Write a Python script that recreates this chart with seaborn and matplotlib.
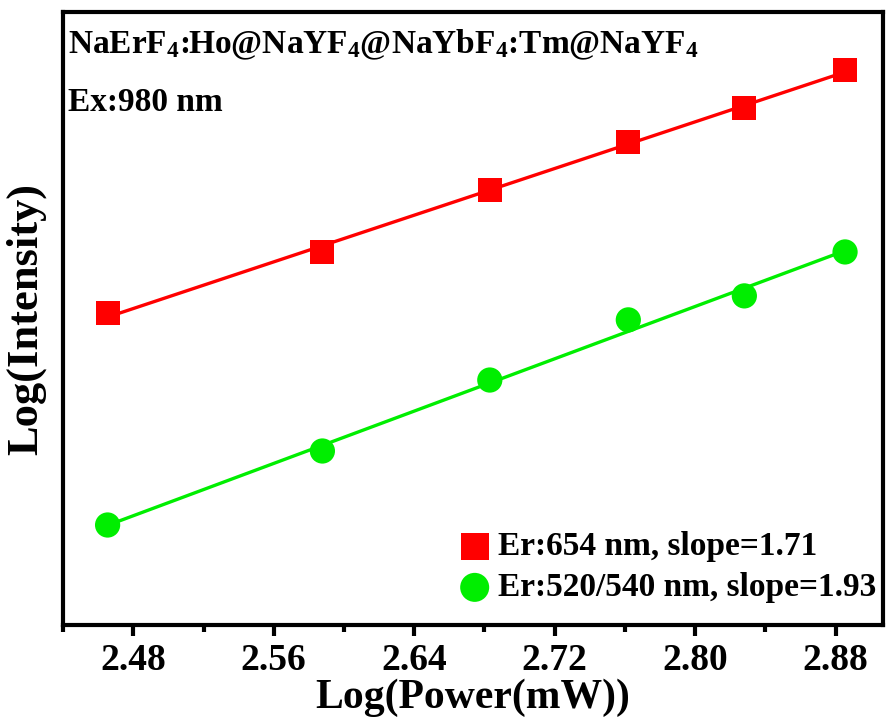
import numpy as np
import matplotlib
matplotlib.use("Agg")
import matplotlib.pyplot as plt
import seaborn as sns
from matplotlib.ticker import MultipleLocator

# excitation power (mW) and log intensity
power_mw = [292, 387, 482, 578, 673, 768]
log_power = np.log10(power_mw)
red_654 = [3.923, 4.104, 4.288, 4.430, 4.530, 4.643]
green_520_540 = [3.296, 3.515, 3.725, 3.903, 3.974, 4.104]

red_label = "Er:654 nm, slope=1.71"
green_label = "Er:520/540 nm, slope=1.93"
title_lines = [r"NaErF$_4$:Ho@NaYF$_4$@NaYbF$_4$:Tm@NaYF$_4$", "Ex:980 nm"]

sns.set_style("white")
plt.rcParams["font.family"] = ["Liberation Serif", "DejaVu Serif"]
plt.rcParams["font.weight"] = "bold"
plt.rcParams["text.color"] = "black"
plt.rcParams["axes.labelcolor"] = "black"
plt.rcParams["xtick.color"] = "black"
plt.rcParams["mathtext.fontset"] = "custom"
plt.rcParams["mathtext.rm"] = "Liberation Serif:bold"
plt.rcParams["mathtext.it"] = "Liberation Serif:bold"
plt.rcParams["mathtext.bf"] = "Liberation Serif:bold"

fig = plt.figure(figsize=(8.89, 7.24), dpi=100)
ax = fig.add_axes([0.0709, 0.1367, 0.9224, 0.8467])

for y, col, mk, lab in [(red_654, "#ff0000", "s", red_label),
                        (green_520_540, "#00ee00", "o", green_label)]:
    k, b = np.polyfit(log_power, y, 1)
    sns.lineplot(x=log_power, y=k * log_power + b, color=col, lw=2.4, ax=ax)
    sns.scatterplot(x=log_power, y=y, color=col, marker=mk, s=300 if mk == "s" else 330,
                    edgecolor="none", label=lab, ax=ax, zorder=3)

ax.set_xlim(2.44, 2.907)
ax.set_ylim(3.0, 4.814)
ax.xaxis.set_major_locator(MultipleLocator(0.08))
ax.xaxis.set_minor_locator(MultipleLocator(0.04))
ax.set_xticks(np.arange(2.48, 2.90, 0.08))
ax.set_yticks([])
ax.tick_params(axis="x", which="major", direction="out", length=8, width=3,
               labelsize=27, pad=5, bottom=True, colors="black")
ax.tick_params(axis="x", which="minor", direction="out", length=5, width=3,
               bottom=True, colors="black")
for lab in ax.get_xticklabels():
    lab.set_fontweight("bold")
for s in ax.spines.values():
    s.set_linewidth(3)
    s.set_color("black")

ax.set_xlabel("Log(Power(mW))", fontsize=30, fontweight="bold", labelpad=0)
ax.set_ylabel("Log(Intensity)", fontsize=32, fontweight="bold", labelpad=12)

ax.text(0.006, 0.946, title_lines[0], transform=ax.transAxes, fontsize=24,
        fontweight="bold", va="center", ha="left")
ax.text(0.006, 0.852, title_lines[1], transform=ax.transAxes, fontsize=24,
        fontweight="bold", va="center", ha="left")

leg = ax.legend(loc="lower right", bbox_to_anchor=(1.008, 0.014), frameon=False,
                fontsize=24, handletextpad=-0.3, borderaxespad=0.0,
                labelspacing=0.3, markerscale=1.15)
for t in leg.get_texts():
    t.set_fontweight("bold")
    t.set_color("black")

fig.savefig("out.png", dpi=100)
